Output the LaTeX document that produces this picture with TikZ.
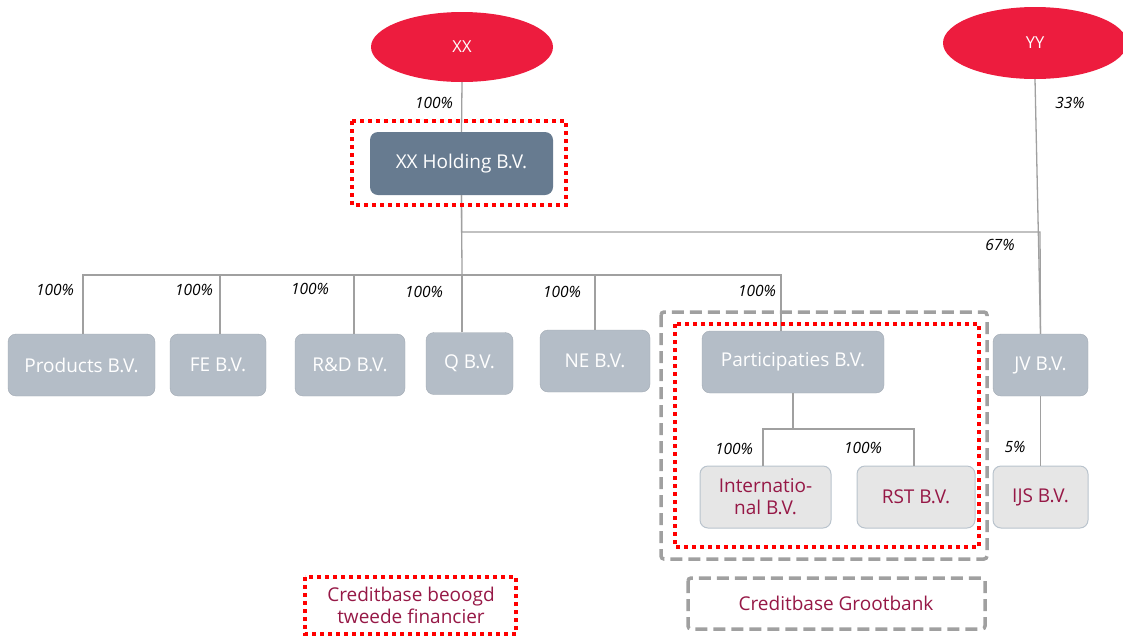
\documentclass[tikz,border=0pt]{standalone}
\usepackage{fontspec}
\setmainfont{Open Sans}
\usetikzlibrary{shapes.geometric}
\definecolor{ownred}{RGB}{237,28,62}
\definecolor{holdblue}{RGB}{103,123,144}
\definecolor{subgray}{RGB}{180,189,199}
\definecolor{leafgray}{RGB}{230,230,230}
\definecolor{leafline}{RGB}{185,195,205}
\definecolor{wine}{RGB}{150,24,70}
\definecolor{linkgray}{RGB}{160,160,160}
\definecolor{framegray}{RGB}{160,160,160}

\begin{document}
\begin{tikzpicture}[x=1pt, y=-1pt,
		owner/.style={ellipse, fill=ownred, text=white, minimum width=182, minimum height=70, font=\fontsize{16.5}{19}\selectfont},
		holding/.style={rectangle, rounded corners=8, fill=holdblue, text=white, minimum width=183, minimum height=63, font=\fontsize{19}{22}\selectfont},
		sub/.style={rectangle, rounded corners=8, fill=subgray, draw=subgray!90!black, line width=0.4, text=white, minimum height=62, font=\fontsize{19}{22}\selectfont},
		leaf/.style={rectangle, rounded corners=8, fill=leafgray, draw=leafline, line width=1, text=wine, minimum height=62, align=center, font=\fontsize{19}{22}\selectfont},
		pct/.style={font=\fontsize{15.5}{18}\selectfont\itshape},
		link/.style={draw=linkgray, line width=1.3},
		redframe/.style={draw=red, line width=4, dash pattern=on 4 off 4},
		grayframe/.style={draw=framegray, line width=3.5, dash pattern=on 12 off 6, rounded corners=3},
		legend/.style={text=wine, align=center, font=\fontsize{19}{22}\selectfont}]
			\useasboundingbox (0,0) rectangle (1123,638);

			\node[owner] (xx) at (462,47) {XX};
			\node[owner, minimum width=184, minimum height=72] (yy) at (1035,43) {YY};

			\node[holding] (hold) at (461.5,163.5) {XX Holding B.V.};

			\node[sub, minimum width=147] (prod) at (81.5,365) {Products B.V.};
			\node[sub, minimum width=96] (fe) at (218,365) {FE B.V.};
			\node[sub, minimum width=110] (rd) at (350,365) {R\&D B.V.};
			\node[sub, minimum width=87] (q) at (469.5,363.5) {Q B.V.};
			\node[sub, minimum width=110] (ne) at (595,361) {NE B.V.};
			\node[sub, minimum width=182] (part) at (793,362) {Participaties B.V.};
			\node[sub, minimum width=95] (jv) at (1040.5,365) {JV B.V.};

			\node[leaf, minimum width=131] (intl) at (765.5,497) {Internatio-\\nal B.V.};
			\node[leaf, minimum width=118] (rst) at (916,497) {RST B.V.};
			\node[leaf, minimum width=95] (ijs) at (1040.5,497) {IJS B.V.};

			\coordinate (bus) at (462,275);
			\coordinate (jvbus) at (1040,232);
			\coordinate (pbus) at (793,429);

			\draw[link] (xx.south) -- (hold.north);
			\draw[link] (hold.south) -- (bus);
			\draw[link] (hold.south) |- (jvbus) -- (jv.north);
			\draw[link] (yy.south) -- (jv.north);
			\draw[link] ([xshift=1.5]prod.north) |- (bus);
			\draw[link] ([xshift=2]fe.north) |- (bus);
			\draw[link] ([xshift=4]rd.north) |- (bus);
			\draw[link] (q.north -| bus) -- (bus);
			\draw[link] (ne.north) |- (bus);
			\draw[link] ([xshift=-12]part.north) |- (bus);
			\draw[link] (part.south) -- (pbus);
			\draw[link] ([xshift=-2.5]intl.north) |- (pbus);
			\draw[link] ([xshift=-2]rst.north) |- (pbus);
			\draw[link] (jv.south) -- (ijs.north);

			\node[pct] (pxx) at (434,103) {100\%};
			\node[pct] (pyy) at (1070,103) {33\%};
			\node[pct] (pjv) at (1000,245) {67\%};
			\node[pct] (pprod) at (55,290) {100\%};
			\node[pct] (pfe) at (194,290) {100\%};
			\node[pct] (prd) at (310,289) {100\%};
			\node[pct] (pq) at (424,292) {100\%};
			\node[pct] (pne) at (562,292) {100\%};
			\node[pct] (ppart) at (757,291) {100\%};
			\node[pct] (pintl) at (734,449) {100\%};
			\node[pct] (prst) at (863,448) {100\%};
			\node[pct] (pijs) at (1015,447) {5\%};

			\draw[redframe] (352,121) rectangle (566,205);
			\draw[grayframe] (661,312) rectangle (987,559);
			\draw[redframe] (675,324) rectangle (979,547);

			\node[legend] (legred) at (411,605.5) {Creditbase beoogd\\tweede financier};
			\draw[redframe] (305,577) rectangle (516,634);
			\node[legend] (leggray) at (836,603) {Creditbase Grootbank};
			\draw[grayframe] (688,578) rectangle (985,629);
\end{tikzpicture}
\end{document}
